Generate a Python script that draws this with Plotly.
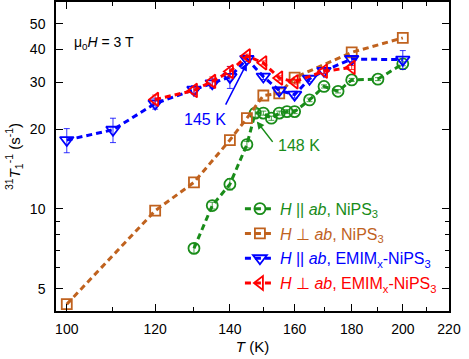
import plotly.graph_objects as go
import numpy as np

# H || ab, NiPS3 (green circles)
T_g = [130, 135, 140, 145, 147.5, 150, 152.5, 155, 157.5, 160, 165, 170, 175, 180, 190, 200]
V_g = [7.1, 10.3, 12.4, 17.5, 23.0, 23.0, 22.0, 23.0, 23.3, 23.3, 25.8, 29.0, 27.8, 30.7, 30.9, 35.3]
E_g = [0.3, 0.3, 0.6, 0.5, 0.8, 0.4, 0.4, 0.4, 0.4, 0.4, 0.4, 0.4, 0.4, 0.4, 0.4, 0.6]

# H ⊥ ab, NiPS3 (orange squares)
T_o = [100, 120, 130, 140, 145, 150, 155, 160, 180, 200]
V_o = [4.37, 9.85, 12.6, 18.2, 22.0, 26.8, 27.3, 31.3, 39.0, 44.2]

# H || ab, EMIMx-NiPS3 (blue down triangles)
T_b = [100, 110, 120, 130, 135, 140, 145, 150, 155, 160, 165, 170, 180, 200]
V_b = [18.2, 19.9, 25.0, 28.2, 29.8, 31.5, 36.8, 31.6, 28.0, 27.0, 31.0, 33.2, 36.8, 36.6]
E_b = [1.9, 2.1, 1.2, 1.0, 1.2, 3.0, 0.8, 0.8, 0.8, 0.8, 0.8, 0.8, 0.8, 3.0]

# H ⊥ ab, EMIMx-NiPS3 (red left triangles)
T_r = [120, 130, 135, 140, 145, 150, 155, 160, 170, 180]
V_r = [25.9, 28.0, 30.3, 33.0, 37.8, 35.6, 31.2, 30.2, 33.1, 34.2]
E_r = [1.0, 0.8, 1.2, 1.5, 0.6, 0.6, 0.6, 0.6, 0.6, 0.6]

x_ticks = [100, 120, 140, 160, 180, 200, 220]
x_minor = [110, 130, 150, 170, 190, 210]
y_ticks = [5, 10, 20, 30, 40, 50]
y_minor = [6, 7, 8, 9]

GREEN = "rgb(25,140,25)"
ORANGE = "rgb(192,98,30)"
BLUE = "rgb(0,0,255)"
RED = "rgb(255,0,0)"
FONT = "Liberation Sans, Arial, sans-serif"

def lab(txt, col):
    return f'<span style="color:{col}">{txt}</span>'

series = [
    (T_g, V_g, E_g, GREEN, "circle-open", 11, lab("<i>H</i> || <i>ab</i>, NiPS<sub>3</sub>", GREEN)),
    (T_o, V_o, None, ORANGE, "square-open", 10, lab("<i>H</i> ⊥ <i>ab</i>, NiPS<sub>3</sub>", ORANGE)),
    (T_b, V_b, E_b, BLUE, "triangle-down-open", 12, lab("<i>H</i> || <i>ab</i>, EMIM<sub>x</sub>-NiPS<sub>3</sub>", BLUE)),
    (T_r, V_r, E_r, RED, "triangle-left-open", 12, lab("<i>H</i> ⊥ <i>ab</i>, EMIM<sub>x</sub>-NiPS<sub>3</sub>", RED)),
]

fig = go.Figure()
for i, (tx, vy, ee, col, sym, sz, name) in enumerate(series):
    err = None
    if ee is not None:
        err = dict(type="data", array=ee, visible=True, color=col, thickness=0.8, width=3)
    fig.add_trace(go.Scatter(
        x=tx, y=vy, mode="lines+markers", name=name,
        legendgroup=f"g{i}",
        line=dict(color=col, width=3, dash="6px,4px"),
        marker=dict(symbol=sym, size=sz, color=col, line=dict(width=1.8, color=col)),
        error_y=err,
    ))

axis_common = dict(
    type="log", showline=True, mirror="ticks", linecolor="black", linewidth=1.5,
    ticks="inside", ticklen=7, tickwidth=1.2, tickcolor="black",
    showgrid=False, zeroline=False, automargin=False,
    tickfont=dict(family=FONT, size=14, color="black"),
)

fig.update_xaxes(
    **axis_common,
    range=[np.log10(97.8), np.log10(220)],
    tickvals=x_ticks, ticktext=[str(v) for v in x_ticks],
    minor=dict(tickvals=x_minor, ticks="inside", ticklen=4, tickcolor="black", tickwidth=1.2),
    title=dict(text="<i>T</i> (K)", font=dict(family=FONT, size=15, color="black"), standoff=6),
    ticklabelstandoff=4,
)
fig.update_yaxes(
    **axis_common,
    range=[np.log10(4.12), np.log10(60.4)],
    tickvals=y_ticks, ticktext=[str(v) for v in y_ticks],
    minor=dict(tickvals=y_minor, ticks="inside", ticklen=4, tickcolor="black", tickwidth=1.2),
    title=dict(text="<sup>31</sup><i>T</i><sub>1</sub><sup>-1</sup> (s<sup>-1</sup>)",
               font=dict(family=FONT, size=15, color="black"), standoff=6),
    ticklabelstandoff=6,
)

# annotations (log axes: positions in log10 units)
fig.add_annotation(x=np.log10(145), y=np.log10(35.5), ax=-22, ay=43, text="",
                   showarrow=True, arrowhead=2, arrowsize=1, arrowwidth=1.5, arrowcolor=BLUE)
fig.add_annotation(x=np.log10(133), y=np.log10(21.7), text="145 K", showarrow=False,
                   font=dict(family=FONT, size=16, color=BLUE))
fig.add_annotation(x=np.log10(148), y=np.log10(21.4), ax=17, ay=22, text="",
                   showarrow=True, arrowhead=2, arrowsize=1, arrowwidth=1.5, arrowcolor=GREEN)
fig.add_annotation(x=np.log10(161.5), y=np.log10(17.3), text="148 K", showarrow=False,
                   font=dict(family=FONT, size=16, color=GREEN))
fig.add_annotation(xref="paper", yref="paper", x=0.122, y=0.867,
                   xanchor="center", yanchor="middle",
                   text="μ<sub>0</sub><i>H</i> = 3 T", showarrow=False,
                   font=dict(family=FONT, size=14, color="black"))

fig.update_layout(
    width=469, height=359,
    margin=dict(l=56, r=20, t=2, b=48),
    paper_bgcolor="white", plot_bgcolor="white",
    font=dict(family=FONT, size=14, color="black"),
    legend=dict(x=0.468, y=0.386, xanchor="left", yanchor="top",
                bgcolor="rgba(0,0,0,0)", traceorder="grouped", tracegroupgap=1,
                font=dict(family=FONT, size=16), itemwidth=30),
    showlegend=True,
)

fig.write_html("out.html", config={"displayModeBar": False},
               post_script="document.body.style.margin='0';")
